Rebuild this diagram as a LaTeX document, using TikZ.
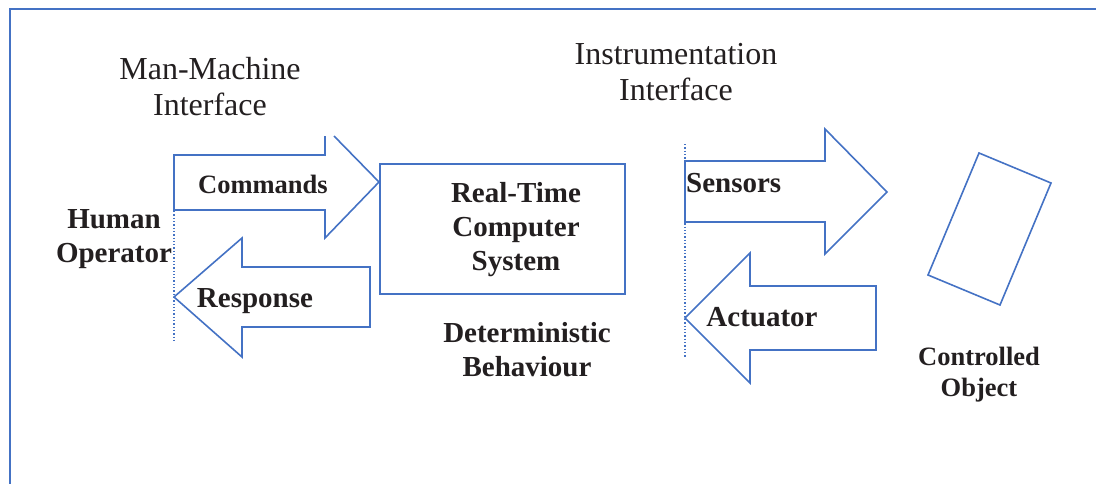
\documentclass[tikz,border=0pt]{standalone}
\usepackage{fontspec}
\setmainfont{Liberation Serif}
\definecolor{lineblue}{RGB}{68,114,196}
\definecolor{ink}{RGB}{35,31,32}
\tikzset{
  shapeline/.style={draw=lineblue, line width=1.6pt, line join=miter},
  frameline/.style={draw=lineblue, line width=2.2pt},
  guide/.style={draw=lineblue, line width=1.3pt, dotted},
  heading/.style={font=\fontsize{32}{36}\selectfont, text=ink, align=center, inner sep=0pt},
  tag/.style={font=\fontsize{29}{34}\selectfont\bfseries, text=ink, align=center, inner sep=0pt},
  smalltag/.style={tag, font=\fontsize{26.5}{31}\selectfont\bfseries},
}
\begin{document}
\begin{tikzpicture}[x=1pt, y=-1pt]
  \useasboundingbox (0,0) rectangle (1096,483);

  % outer frame (top and left edges)
  \draw[frameline] (10,490) -- (10,9) -- (1100,9);

  % interface guides
  \draw[guide] (174,155) -- (174,342);
  \draw[guide] (685,144) -- (685,358);

  % Commands arrow (head cut at the top)
  \draw[shapeline] (325,136) -- (325,155) -- (174,155) -- (174,210) -- (325,210)
        -- (325,238) -- (379,182) -- (334,136);
  % Response arrow
  \draw[shapeline] (174,297) -- (242,238) -- (242,267) -- (370,267) -- (370,327)
        -- (242,327) -- (242,357) -- cycle;
  % Sensors arrow
  \draw[shapeline] (685,161) -- (825,161) -- (825,129) -- (887,192) -- (825,254)
        -- (825,222) -- (685,222) -- cycle;
  % Actuator arrow
  \draw[shapeline] (685,318) -- (750,253) -- (750,286) -- (876,286) -- (876,350)
        -- (750,350) -- (750,383) -- cycle;

  % computer system box
  \node[shapeline, minimum width=245pt, minimum height=130pt, inner sep=0pt,
        anchor=north west] (rtcs) at (379,163) {};
  % controlled object
  \draw[shapeline] (979,153) -- (1051,183) -- (1000,305) -- (928,275) -- cycle;

  % texts
  \node[heading] (mmi) at (210,87) {Man-Machine\\Interface};
  \node[heading] (ii) at (676,72) {Instrumentation\\Interface};
  \node[tag] (human) at (114,239) {Human\\Operator};
  \node[smalltag] (cmd) at (263,184) {Commands};
  \node[tag] (resp) at (255,301) {Response};
  \node[tag] (rtcstext) at (516,230) {Real-Time\\Computer\\System};
  \node[tag] (det) at (527,350) {Deterministic\\Behaviour};
  \node[tag, anchor=west] (sens) at (686,183) {Sensors};
  \node[tag] (act) at (762,317) {Actuator};
  \node[smalltag] (obj) at (979,375) {Controlled\\Object};
\end{tikzpicture}
\end{document}
